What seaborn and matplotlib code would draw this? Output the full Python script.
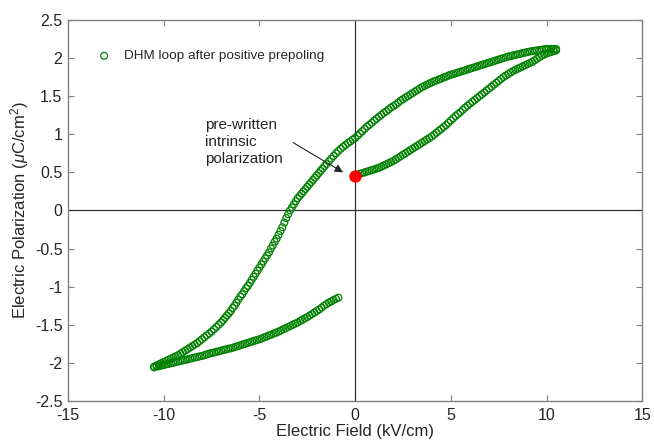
import numpy as np
import pandas as pd
import matplotlib
matplotlib.use('Agg')
import matplotlib.pyplot as plt
import seaborn as sns

# lower branch on the right side, going up from the pre-written point
field_up = [0.0, 0.125, 0.25, 0.375, 0.5, 0.625, 0.75, 0.875, 1.0, 1.125, 1.25, 1.375, 1.5, 1.625,
            1.75, 1.875, 2.0, 2.125, 2.25, 2.375, 2.5, 2.625, 2.75, 2.875, 3.0, 3.125, 3.25, 3.375,
            3.5, 3.625, 3.75, 3.875, 4.0, 4.125, 4.25, 4.375, 4.5, 4.625, 4.75, 4.875, 5.0, 5.125,
            5.25, 5.375, 5.5, 5.625, 5.75, 5.875, 6.0, 6.125, 6.25, 6.375, 6.5, 6.625, 6.75, 6.875,
            7.0, 7.125, 7.25, 7.375, 7.5, 7.625, 7.75, 7.875, 8.0, 8.125, 8.25, 8.375, 8.5, 8.625,
            8.75, 8.875, 9.0, 9.125, 9.25, 9.375, 9.5, 9.625, 9.75, 9.875, 10.0, 10.125, 10.25,
            10.375, 10.5]
pol_up = [0.46, 0.47, 0.48, 0.49, 0.50, 0.51, 0.52, 0.53, 0.54, 0.55, 0.56, 0.575, 0.59, 0.605,
          0.62, 0.635, 0.65, 0.67, 0.69, 0.71, 0.73, 0.75, 0.77, 0.79, 0.81, 0.83, 0.85, 0.87,
          0.89, 0.91, 0.93, 0.95, 0.97, 0.995, 1.02, 1.045, 1.07, 1.095, 1.12, 1.15, 1.18, 1.21,
          1.24, 1.265, 1.29, 1.32, 1.35, 1.375, 1.40, 1.425, 1.45, 1.475, 1.50, 1.525, 1.55, 1.575,
          1.60, 1.625, 1.65, 1.675, 1.70, 1.725, 1.75, 1.77, 1.79, 1.81, 1.83, 1.845, 1.86, 1.875,
          1.89, 1.905, 1.92, 1.935, 1.95, 1.97, 1.99, 2.01, 2.03, 2.045, 2.06, 2.07, 2.08,
          2.09, 2.10]

# upper branch, going down from +10.5 to -10.5 kV/cm
field_down = [10.5, 10.375, 10.25, 10.125, 10.0, 9.875, 9.75, 9.625, 9.5, 9.375, 9.25, 9.125, 9.0,
              8.875, 8.75, 8.625, 8.5, 8.375, 8.25, 8.125, 8.0, 7.875, 7.75, 7.625, 7.5, 7.375,
              7.25, 7.125, 7.0, 6.875, 6.75, 6.625, 6.5, 6.375, 6.25, 6.125, 6.0, 5.875, 5.75,
              5.625, 5.5, 5.375, 5.25, 5.125, 5.0, 4.875, 4.75, 4.625, 4.5, 4.375, 4.25, 4.125,
              4.0, 3.875, 3.75, 3.625, 3.5, 3.375, 3.25, 3.125, 3.0, 2.875, 2.75, 2.625, 2.5,
              2.375, 2.25, 2.125, 2.0, 1.875, 1.75, 1.625, 1.5, 1.375, 1.25, 1.125, 1.0, 0.875,
              0.75, 0.625, 0.5, 0.375, 0.25, 0.125, 0.0, -0.125, -0.25, -0.375, -0.5, -0.625,
              -0.75, -0.875, -1.0, -1.125, -1.25, -1.375, -1.5, -1.6, -1.7, -1.8, -1.9, -2.0,
              -2.1, -2.2, -2.3, -2.4, -2.5, -2.6, -2.7, -2.8, -2.9, -3.0, -3.1, -3.2, -3.3, -3.4,
              -3.5, -3.6, -3.7, -3.8, -3.9, -4.0, -4.1, -4.2, -4.3, -4.4, -4.5, -4.6, -4.7, -4.8,
              -4.9, -5.0, -5.1, -5.2, -5.3, -5.4, -5.5, -5.6, -5.7, -5.8, -5.9, -6.0, -6.1, -6.2,
              -6.3, -6.4, -6.5, -6.6, -6.7, -6.8, -6.9, -7.0, -7.125, -7.25, -7.375, -7.5, -7.625,
              -7.75, -7.875, -8.0, -8.125, -8.25, -8.375, -8.5, -8.625, -8.75, -8.875, -9.0,
              -9.125, -9.25, -9.375, -9.5, -9.625, -9.75, -9.875, -10.0, -10.125, -10.25, -10.375,
              -10.5]
pol_down = [2.12, 2.12, 2.12, 2.12, 2.12, 2.115, 2.11, 2.105, 2.10, 2.095, 2.09, 2.085, 2.08,
            2.07, 2.065, 2.055, 2.05, 2.04, 2.035, 2.025, 2.02, 2.01, 2.00, 1.99, 1.98, 1.97,
            1.96, 1.95, 1.94, 1.93, 1.92, 1.91, 1.90, 1.89, 1.88, 1.87, 1.86, 1.85, 1.84,
            1.83, 1.82, 1.81, 1.80, 1.79, 1.78, 1.77, 1.755, 1.745, 1.73, 1.72, 1.705, 1.695,
            1.68, 1.665, 1.65, 1.635, 1.62, 1.60, 1.58, 1.56, 1.54, 1.52, 1.50, 1.48, 1.46,
            1.44, 1.415, 1.39, 1.37, 1.35, 1.325, 1.30, 1.28, 1.255, 1.23, 1.205, 1.18, 1.15,
            1.125, 1.10, 1.07, 1.04, 1.01, 0.98, 0.95, 0.93, 0.905, 0.885, 0.86, 0.835,
            0.81, 0.78, 0.75, 0.715, 0.68, 0.645, 0.61, 0.58, 0.55, 0.52, 0.49, 0.46,
            0.43, 0.40, 0.37, 0.34, 0.31, 0.28, 0.25, 0.22, 0.19, 0.16, 0.12, 0.08, 0.04, 0.0,
            -0.05, -0.10, -0.16, -0.22, -0.27, -0.32, -0.37, -0.41, -0.46, -0.50, -0.55, -0.59, -0.63, -0.67,
            -0.71, -0.75, -0.79, -0.83, -0.87, -0.91, -0.95, -0.99, -1.02, -1.06, -1.10, -1.13, -1.17, -1.21,
            -1.25, -1.28, -1.32, -1.35, -1.38, -1.41, -1.44, -1.47, -1.50, -1.53, -1.56, -1.59, -1.615,
            -1.64, -1.665, -1.69, -1.715, -1.74, -1.76, -1.78, -1.80, -1.82, -1.84, -1.86,
            -1.88, -1.90, -1.915, -1.93, -1.945, -1.96, -1.975, -1.99, -2.005, -2.02, -2.035,
            -2.05]

# lower branch on the left side, going back towards zero
field_back = [-10.5, -10.375, -10.25, -10.125, -10.0, -9.875, -9.75, -9.625, -9.5, -9.375, -9.25,
              -9.125, -9.0, -8.875, -8.75, -8.625, -8.5, -8.375, -8.25, -8.125, -8.0, -7.875,
              -7.75, -7.625, -7.5, -7.375, -7.25, -7.125, -7.0, -6.875, -6.75, -6.625, -6.5,
              -6.375, -6.25, -6.125, -6.0, -5.875, -5.75, -5.625, -5.5, -5.375, -5.25, -5.125,
              -5.0, -4.875, -4.75, -4.625, -4.5, -4.375, -4.25, -4.125, -4.0, -3.875, -3.75,
              -3.625, -3.5, -3.375, -3.25, -3.125, -3.0, -2.875, -2.75, -2.625, -2.5, -2.375,
              -2.25, -2.125, -2.0, -1.875, -1.75, -1.625, -1.5, -1.375, -1.25, -1.125, -1.0, -0.875]
pol_back = [-2.06, -2.05, -2.045, -2.035, -2.03, -2.02, -2.015, -2.005, -2.0, -1.99, -1.985,
            -1.975, -1.97, -1.96, -1.955, -1.945, -1.94, -1.93, -1.925, -1.915, -1.91, -1.90,
            -1.89, -1.88, -1.87, -1.865, -1.855, -1.85, -1.84, -1.83, -1.825, -1.815, -1.81,
            -1.80, -1.79, -1.78, -1.77, -1.76, -1.75, -1.74, -1.73, -1.72, -1.71, -1.70,
            -1.69, -1.68, -1.665, -1.655, -1.64, -1.63, -1.615, -1.605, -1.59, -1.575, -1.56,
            -1.545, -1.53, -1.515, -1.50, -1.485, -1.47, -1.45, -1.435, -1.415, -1.40, -1.38,
            -1.36, -1.34, -1.32, -1.30, -1.275, -1.25, -1.23, -1.21, -1.195, -1.175, -1.16, -1.145]

prewritten_field = [0.0]
prewritten_pol = [0.45]

df = pd.DataFrame({'field': field_up + field_down + field_back,
                   'pol': pol_up + pol_down + pol_back})

sns.set_style('white')
plt.rcParams['font.family'] = ['Liberation Sans', 'DejaVu Sans']
plt.rcParams['mathtext.fontset'] = 'custom'
plt.rcParams['mathtext.rm'] = 'Liberation Sans'
plt.rcParams['mathtext.it'] = 'Liberation Sans:italic'
plt.rcParams['axes.unicode_minus'] = False

fig = plt.figure(figsize=(6.54, 4.43), dpi=100)
ax = fig.add_axes([0.104, 0.095, 0.878, 0.86])

green = '#008000'
ax.axhline(0, color='#333333', lw=0.9, zorder=1)
ax.axvline(0, color='#333333', lw=0.9, zorder=1)

sns.scatterplot(data=df, x='field', y='pol', ax=ax, marker='o', s=24,
                facecolors='none', edgecolor=green, linewidth=0.9,
                label='DHM loop after positive prepoling', zorder=3)
sns.scatterplot(x=prewritten_field, y=prewritten_pol, ax=ax, color='red', s=80,
                edgecolor='red', linewidth=0, zorder=4)

# label and arrow pointing at the pre-written point
ax.text(-7.85, 0.90, 'pre-written\nintrinsic\npolarization', ha='left', va='center',
        fontsize=11, color='#262626', linespacing=1.3)
ax.annotate('', xy=(-0.63, 0.50), xytext=(-3.24, 0.89),
            arrowprops=dict(arrowstyle='-|>', color='#262626', lw=0.8,
                            shrinkA=0, shrinkB=0, mutation_scale=12))

ax.set_xlim(-15, 15)
ax.set_ylim(-2.5, 2.5)
ax.set_xticks(np.arange(-15, 16, 5))
ax.set_yticks(np.arange(-2.5, 2.6, 0.5))
ax.set_yticklabels(['-2.5', '-2', '-1.5', '-1', '-0.5', '0', '0.5', '1', '1.5', '2', '2.5'])
ax.tick_params(direction='in', length=4, width=0.8, color='#808080', labelsize=11.5,
               labelcolor='#262626', top=True, right=True, bottom=True, left=True)
ax.tick_params(axis='x', pad=5)
ax.tick_params(axis='y', pad=4)
for sp in ax.spines.values():
    sp.set_color('#808080')
    sp.set_linewidth(1.0)

ax.set_xlabel('Electric Field (kV/cm)', fontsize=12, color='#262626', labelpad=1)
ax.set_ylabel(r'Electric Polarization ($\mu$C/cm$^2$)', fontsize=12, color='#262626', labelpad=3)

leg = ax.legend(loc='center left', bbox_to_anchor=(0.03, 0.905), frameon=False,
                fontsize=9.7, handletextpad=0.5, borderaxespad=0)
for t in leg.get_texts():
    t.set_color('#262626')

fig.savefig('out.png', dpi=100)
